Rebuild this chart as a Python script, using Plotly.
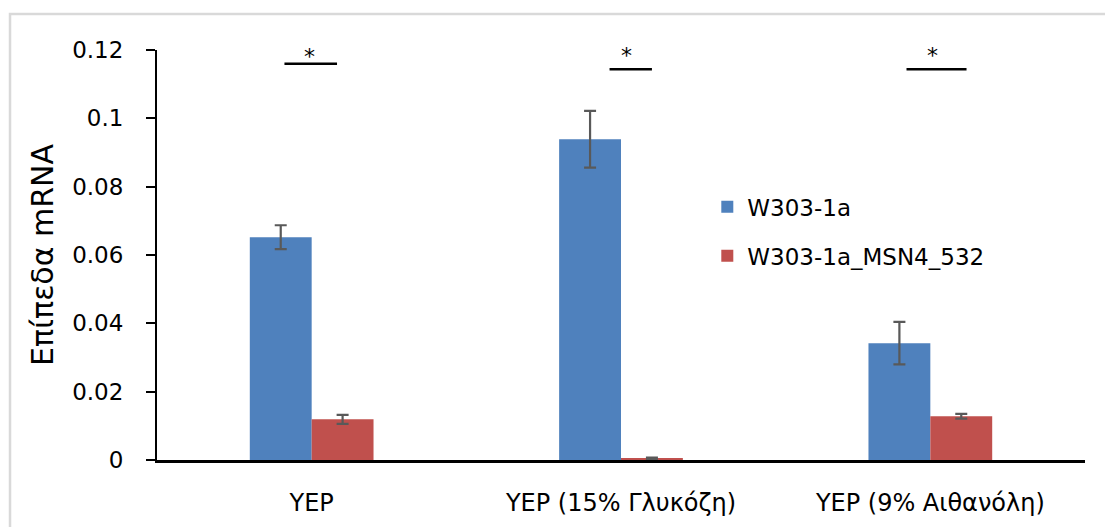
import plotly.graph_objects as go

categories = ["YEP", "YEP (15% Γλυκόζη)", "YEP (9% Αιθανόλη)"]
series_names = ["W303-1a", "W303-1a_MSN4_532"]
wt_values = [0.0652, 0.0939, 0.0342]
wt_errors = [0.0035, 0.0083, 0.0062]
mut_values = [0.0119, 0.0005, 0.0128]
mut_errors = [0.0013, 0.0002, 0.0007]
y_tickvals = [0, 0.02, 0.04, 0.06, 0.08, 0.1, 0.12]
y_ticktext = ["0", "0.02", "0.04", "0.06", "0.08", "0.1", "0.12"]
y_title = "Επίπεδα mRNA"
sig_labels = ["*", "*", "*"]
sig_levels = [0.1160, 0.1144, 0.1144]
star_levels = [0.1195, 0.1198, 0.1198]

colors = ["#4F81BD", "#C0504D"]
font_family = "DejaVu Sans, sans-serif"

fig = go.Figure()
for name, vals, errs, col, grp in [
    (series_names[0], wt_values, wt_errors, colors[0], "a"),
    (series_names[1], mut_values, mut_errors, colors[1], "b"),
]:
    fig.add_trace(go.Bar(
        x=categories, y=vals, name=name, legendgroup=grp,
        marker=dict(color=col, line=dict(width=0)),
        error_y=dict(type="data", array=errs, visible=True,
                     color="#595959", thickness=2.2, width=6),
    ))

# significance markers (offsets in category units)
line_spans = [(-0.088, 0.082), (-0.037, 0.100), (-0.077, 0.117)]
star_offsets = [-0.007, 0.017, 0.008]
for i in range(len(categories)):
    x0, x1 = line_spans[i]
    fig.add_shape(type="line", xref="x", yref="y",
                  x0=i + x0, x1=i + x1, y0=sig_levels[i], y1=sig_levels[i],
                  line=dict(color="black", width=2.5))
    fig.add_annotation(x=i + star_offsets[i], y=star_levels[i], xref="x", yref="y",
                       text=sig_labels[i], showarrow=False, yanchor="middle", yshift=-5,
                       font=dict(family=font_family, size=22, color="#000000"))

# outer chart border (partially visible)
fig.add_shape(type="rect", xref="paper", yref="paper",
              x0=-0.1584, x1=1.2, y0=-0.5, y1=1.0878,
              line=dict(color="#D9D9D9", width=2.5), layer="below")

fig.update_layout(
    width=1105, height=527,
    margin=dict(l=157, r=20, t=50, b=67),
    paper_bgcolor="white", plot_bgcolor="white",
    barmode="group", bargap=0.6, bargroupgap=0,
    font=dict(family=font_family, size=22, color="black"),
    legend=dict(x=0.593, y=0.670, xanchor="left", yanchor="top",
                font=dict(family=font_family, size=23, color="black"),
                traceorder="grouped", tracegroupgap=16,
                bgcolor="rgba(0,0,0,0)"),
    xaxis=dict(showline=True, linecolor="black", linewidth=2.5,
               ticks="", showgrid=False, zeroline=False, automargin=False,
               ticklabelstandoff=19,
               tickfont=dict(family=font_family, size=24, color="black")),
    yaxis=dict(range=[0, 0.12], tickvals=y_tickvals, ticktext=y_ticktext,
               showline=True, linecolor="black", linewidth=2,
               ticks="outside", ticklen=9, tickwidth=2, tickcolor="black",
               ticklabelstandoff=18,
               showgrid=False, zeroline=False,
               tickfont=dict(family=font_family, size=23, color="black"),
               title=dict(text=y_title, standoff=10,
                          font=dict(family=font_family, size=30, color="black"))),
)

fig.write_html("out.html")
